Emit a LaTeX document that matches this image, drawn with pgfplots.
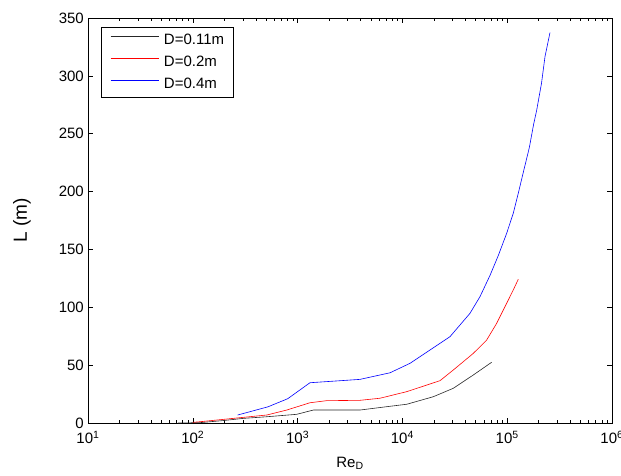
\documentclass[border=0pt]{standalone}
\usepackage{fontspec}
\setmainfont{Liberation Sans}
\usepackage{pgfplots}
\pgfplotsset{compat=1.18}

\begin{document}
\begin{tikzpicture}
  \fontsize{15}{17}\selectfont
  \path[use as bounding box] (-88pt,-52pt) rectangle (533pt,423pt);
  \begin{semilogxaxis}[
    at={(0pt,0pt)}, anchor=south west,
    scale only axis,
    width=524pt, height=405pt,
    xmin=10, xmax=1e6,
    ymin=0, ymax=350,
    ytick={0,50,...,350},
    xtick={10,100,1000,10000,100000,1000000},
    xticklabels={10\textsuperscript{1},10\textsuperscript{2},10\textsuperscript{3},10\textsuperscript{4},10\textsuperscript{5},10\textsuperscript{6}},
    /pgf/number format/assume math mode=true,
    tick align=inside,
    major tick length=5pt,
    minor tick length=3pt,
    tick style={black, line width=0.6pt},
    axis line style={black, line width=0.8pt},
    ticklabel style={font=\fontsize{15}{17}\selectfont},
    xticklabel style={yshift=-3pt},
    yticklabel style={xshift=1pt},
    xlabel={Re\textsubscript{D}},
    ylabel={L (m)},
    every axis x label/.style={at={(axis description cs:0.5,0)}, anchor=base, yshift=-44pt,
      font=\fontsize{15}{17}\selectfont},
    every axis y label/.style={at={(axis description cs:-0.126,0.5)}, anchor=center, rotate=90,
      font=\fontsize{19}{21}\selectfont},
    legend style={at={(0.0248,0.978)}, anchor=north west, draw=black, line width=0.8pt,
      font=\fontsize{15}{17}\selectfont, row sep=8pt, column sep=5pt,
      inner xsep=9pt, inner ysep=6pt,
      nodes={inner sep=0pt, text height=11pt, text depth=3pt}},
    legend cell align=left,
    legend image code/.code={\draw[#1, line width=0.6pt] (0pt,4pt) -- (48pt,4pt);},
  ]
    \addplot[black!85, line width=0.6pt] coordinates {
      (72,0) (117,0.3) (200,2.2) (303,4.0) (507,5.4) (980,7.5) (1413,11.2)
      (2500,11.2) (3936,11.2) (7080,14.1) (11000,16.2) (19700,22.7)
      (30600,30.0) (47500,41.5) (71100,52.5)
    };
    \addlegendentry{D=0.11m}
    \addplot[red, line width=0.6pt] coordinates {
      (100,0.6) (117,1.1) (243,4.0) (507,6.9) (787,11.2) (1312,17.5)
      (1895,19.3) (3936,19.6) (6110,21.4) (11000,27.1) (22860,36.6)
      (30600,45.8) (47500,60.2) (63700,71.7) (79400,86.2) (98900,103.5)
      (114300,115.0) (127600,124.2)
    };
    \addlegendentry{D=0.2m}
    \addplot[blue, line width=0.6pt] coordinates {
      (268,6.9) (522,14.0) (805,21.0) (1312,34.8) (3936,37.7) (7620,43.4)
      (11830,51.6) (18330,63.1) (28450,74.6) (44150,94.8) (55000,109.2)
      (68500,127.5) (82200,144.7) (98900,164.0) (114300,181.3) (127600,198.6)
      (142500,216.7) (162600,238.0) (178600,258.0) (191200,270.4)
      (212500,293.6) (229400,316.6) (256000,337.4)
    };
    \addlegendentry{D=0.4m}
  \end{semilogxaxis}
\end{tikzpicture}
\end{document}
